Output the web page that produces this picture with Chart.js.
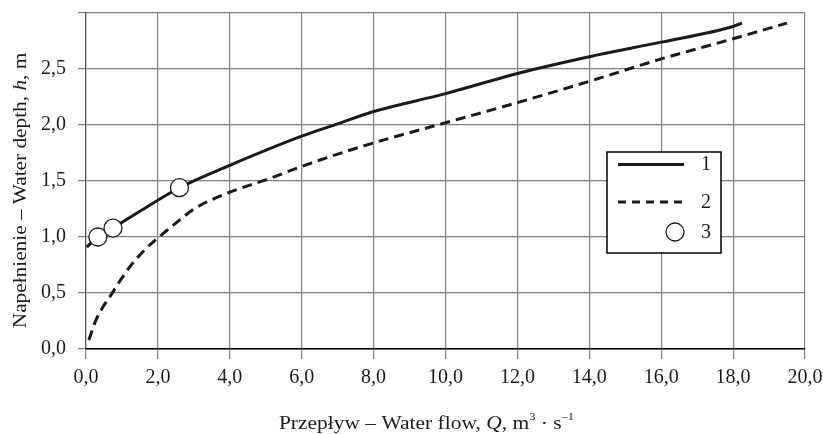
<!DOCTYPE html>
<html>
<head>
<meta charset="utf-8">
<script src="https://cdn.jsdelivr.net/npm/chart.js@4.4.0/dist/chart.umd.min.js"></script>
<style>
  html, body { margin: 0; padding: 0; background: #fff; }
  #wrap { width: 823px; height: 434px; }
</style>
</head>
<body>
<div id="wrap"><canvas id="chart"></canvas></div>
<script>
// Curve 1 (solid)
const flow1 = [0.02, 0.33, 0.75, 1.5, 2.6, 4.0, 6.0, 7.0, 8.0, 10.0, 12.0, 12.5, 14.0, 16.0, 18.0, 18.25];
const depth1 = [0.91, 1.00, 1.08, 1.23, 1.44, 1.64, 1.90, 2.01, 2.12, 2.28, 2.46, 2.50, 2.61, 2.74, 2.88, 2.91];
// Curve 2 (dashed)
const flow2 = [0.08, 0.28, 0.75, 1.21, 1.68, 2.03, 2.6, 3.0, 4.0, 5.0, 6.0, 7.0, 8.0, 10.0, 12.0, 14.0, 16.0, 18.0, 19.5];
const depth2 = [0.08, 0.26, 0.51, 0.73, 0.90, 1.00, 1.15, 1.25, 1.40, 1.51, 1.63, 1.74, 1.84, 2.02, 2.20, 2.39, 2.59, 2.77, 2.91];
// Measured points (3)
const flow3 = [0.33, 0.75, 2.6];
const depth3 = [1.00, 1.08, 1.44];
const legendLabels = ["1", "2", "3"];

const FONT = "'Liberation Serif', 'Times New Roman', serif";
const INK = "#1a1a1a";
const GRID = "#808080";

const toPoints = (xs, ys) => xs.map((x, i) => ({ x, y: ys[i] }));

// draw a line of mixed text pieces, centred on (0,0) of the current transform
const drawPieces = (ctx, pieces) => {
  let total = 0;
  pieces.forEach((p) => {
    ctx.font = p.font;
    p.w = ctx.measureText(p.text).width;
    total += p.w;
  });
  let x = -total / 2;
  pieces.forEach((p) => {
    ctx.font = p.font;
    ctx.fillText(p.text, x, p.dy || 0);
    x += p.w;
  });
};

const overlayPlugin = {
  id: "overlay",
  afterDraw(chart) {
    const ctx = chart.ctx;
    ctx.save();
    ctx.fillStyle = INK;
    ctx.textBaseline = "alphabetic";
    ctx.textAlign = "left";

    const n = "19px " + FONT;
    const it = "italic 19px " + FONT;
    const sup = "11px " + FONT;

    // x axis title (slightly widened like the source figure)
    ctx.save();
    ctx.translate(426.5, 429);
    ctx.scale(1.13, 1);
    drawPieces(ctx, [
      { text: "Przepływ – Water flow, ", font: n },
      { text: "Q", font: it },
      { text: ", m", font: n },
      { text: "3", font: sup, dy: -9 },
      { text: " · s", font: n },
      { text: "–1", font: sup, dy: -9 },
    ]);
    ctx.restore();

    // y axis title
    ctx.save();
    ctx.translate(26, 190.5);
    ctx.rotate(-Math.PI / 2);
    ctx.scale(1.12, 1);
    drawPieces(ctx, [
      { text: "Napełnienie – Water depth, ", font: n },
      { text: "h", font: it },
      { text: ", m", font: n },
    ]);
    ctx.restore();

    // legend box
    const bx = 607, by = 152, bw = 114, bh = 101;
    ctx.fillStyle = "#fff";
    ctx.fillRect(bx, by, bw, bh);
    ctx.strokeStyle = "#000";
    ctx.lineWidth = 1.5;
    ctx.strokeRect(bx, by, bw, bh);

    ctx.strokeStyle = INK;
    ctx.lineWidth = 3;
    ctx.beginPath();
    ctx.moveTo(618, 164.5);
    ctx.lineTo(684, 164.5);
    ctx.stroke();

    ctx.setLineDash([8, 6]);
    ctx.beginPath();
    ctx.moveTo(618, 202);
    ctx.lineTo(686, 202);
    ctx.stroke();
    ctx.setLineDash([]);

    ctx.lineWidth = 1.3;
    ctx.fillStyle = "#fff";
    ctx.beginPath();
    ctx.arc(675, 232, 9, 0, Math.PI * 2);
    ctx.fill();
    ctx.stroke();

    ctx.fillStyle = INK;
    ctx.font = "20px " + FONT;
    ctx.textBaseline = "middle";
    legendLabels.forEach((t, i) => {
      ctx.fillText(t, 701, [165, 203, 233][i]);
    });
    ctx.restore();
  },
};

new Chart(document.getElementById("chart"), {
  type: "line",
  data: {
    datasets: [
      {
        data: toPoints(flow1, depth1),
        borderColor: INK,
        borderWidth: 3,
        pointRadius: 0,
        cubicInterpolationMode: "monotone",
        order: 2,
      },
      {
        data: toPoints(flow2, depth2),
        borderColor: INK,
        borderWidth: 3,
        borderDash: [10, 6],
        pointRadius: 0,
        cubicInterpolationMode: "monotone",
        order: 2,
      },
      {
        data: toPoints(flow3, depth3),
        showLine: false,
        pointRadius: 9,
        pointBackgroundColor: "#fff",
        pointBorderColor: INK,
        pointBorderWidth: 1.3,
        order: 1,
      },
    ],
  },
  options: {
    responsive: true,
    maintainAspectRatio: false,
    animation: false,
    layout: { autoPadding: false, padding: { left: 0, right: 18, top: 13, bottom: 0 } },
    plugins: {
      legend: { display: false },
      tooltip: { enabled: false },
    },
    scales: {
      x: {
        type: "linear",
        min: 0,
        max: 20,
        afterFit: (scale) => {
          scale.height = 85;
          scale.paddingLeft = 0;
          scale.paddingRight = 0;
        },
        ticks: {
          stepSize: 2,
          padding: 7,
          color: INK,
          font: { family: FONT, size: 20 },
          callback: (v) => v.toFixed(1).replace(".", ","),
        },
        grid: { color: GRID, lineWidth: 1.2, tickLength: 10 },
        border: { color: "#000", width: 1.5 },
      },
      y: {
        min: 0,
        max: 3,
        afterFit: (scale) => {
          scale.width = 86;
          scale.paddingTop = 0;
          scale.paddingBottom = 0;
        },
        ticks: {
          stepSize: 0.5,
          padding: 12,
          color: INK,
          font: { family: FONT, size: 20 },
          callback: (v) => (v >= 3 ? "" : v.toFixed(1).replace(".", ",")),
        },
        grid: { color: GRID, lineWidth: 1.2, tickLength: 8 },
        border: { color: "#555", width: 1.2 },
      },
    },
  },
  plugins: [overlayPlugin],
});
</script>
</body>
</html>
